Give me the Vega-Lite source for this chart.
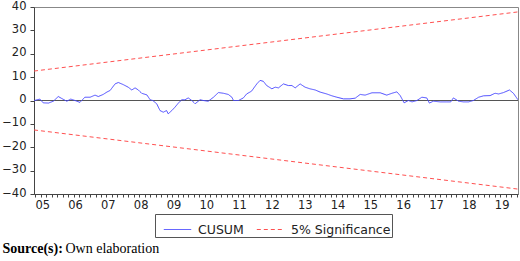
{
  "$schema": "https://vega.github.io/schema/vega-lite/v6.json",
  "width": 484,
  "height": 187,
  "autosize": {"type": "none"},
  "padding": {"left": 34, "top": 7, "right": 2, "bottom": 67},
  "background": "white",
  "config": {
    "view": {"stroke": "#888888", "strokeWidth": 1},
    "axis": {"labelFont": "DejaVu Sans", "labelFontSize": 11.5, "labelColor": "#222222", "domainColor": "#444444", "tickColor": "#444444", "grid": false},
    "axisY": {
      "values": [-40, -30, -20, -10, 0, 10, 20, 30, 40],
      "labelOverlap": false,
      "labelFlush": false,
      "tickSize": 4,
      "labelPadding": 4,
      "labelOffset": -1,
      "titleFont": "Liberation Serif",
      "titleFontSize": 14,
      "titleFontWeight": "bold",
      "titleColor": "#000000",
      "titleAngle": 0,
      "titleAlign": "left",
      "titleBaseline": "alphabetic",
      "titleX": -32,
      "titleY": 245.7
    }
  },
  "datasets": {
    "series": [
      {"t": 2005.26, "v": 0, "series": "CUSUM", "grp": "cusum"},
      {"t": 2005.43, "v": 0.6, "series": "CUSUM", "grp": "cusum"},
      {"t": 2005.53, "v": -1.0, "series": "CUSUM", "grp": "cusum"},
      {"t": 2005.69, "v": -1.1, "series": "CUSUM", "grp": "cusum"},
      {"t": 2005.84, "v": -0.3, "series": "CUSUM", "grp": "cusum"},
      {"t": 2005.99, "v": 1.7, "series": "CUSUM", "grp": "cusum"},
      {"t": 2006.09, "v": 0.9, "series": "CUSUM", "grp": "cusum"},
      {"t": 2006.25, "v": -0.3, "series": "CUSUM", "grp": "cusum"},
      {"t": 2006.37, "v": 0.6, "series": "CUSUM", "grp": "cusum"},
      {"t": 2006.50, "v": 0, "series": "CUSUM", "grp": "cusum"},
      {"t": 2006.65, "v": -0.8, "series": "CUSUM", "grp": "cusum"},
      {"t": 2006.80, "v": 1.4, "series": "CUSUM", "grp": "cusum"},
      {"t": 2006.96, "v": 1.4, "series": "CUSUM", "grp": "cusum"},
      {"t": 2007.11, "v": 2.3, "series": "CUSUM", "grp": "cusum"},
      {"t": 2007.21, "v": 1.7, "series": "CUSUM", "grp": "cusum"},
      {"t": 2007.36, "v": 2.6, "series": "CUSUM", "grp": "cusum"},
      {"t": 2007.47, "v": 3.6, "series": "CUSUM", "grp": "cusum"},
      {"t": 2007.57, "v": 4.3, "series": "CUSUM", "grp": "cusum"},
      {"t": 2007.72, "v": 7.1, "series": "CUSUM", "grp": "cusum"},
      {"t": 2007.82, "v": 7.7, "series": "CUSUM", "grp": "cusum"},
      {"t": 2007.97, "v": 6.8, "series": "CUSUM", "grp": "cusum"},
      {"t": 2008.12, "v": 5.7, "series": "CUSUM", "grp": "cusum"},
      {"t": 2008.23, "v": 4.5, "series": "CUSUM", "grp": "cusum"},
      {"t": 2008.33, "v": 5.4, "series": "CUSUM", "grp": "cusum"},
      {"t": 2008.43, "v": 4.5, "series": "CUSUM", "grp": "cusum"},
      {"t": 2008.53, "v": 3.1, "series": "CUSUM", "grp": "cusum"},
      {"t": 2008.69, "v": 2.4, "series": "CUSUM", "grp": "cusum"},
      {"t": 2008.79, "v": 0.3, "series": "CUSUM", "grp": "cusum"},
      {"t": 2008.87, "v": 0, "series": "CUSUM", "grp": "cusum"},
      {"t": 2008.99, "v": -1.4, "series": "CUSUM", "grp": "cusum"},
      {"t": 2009.09, "v": -4.3, "series": "CUSUM", "grp": "cusum"},
      {"t": 2009.19, "v": -5.0, "series": "CUSUM", "grp": "cusum"},
      {"t": 2009.29, "v": -4.3, "series": "CUSUM", "grp": "cusum"},
      {"t": 2009.34, "v": -5.7, "series": "CUSUM", "grp": "cusum"},
      {"t": 2009.45, "v": -4.3, "series": "CUSUM", "grp": "cusum"},
      {"t": 2009.55, "v": -2.8, "series": "CUSUM", "grp": "cusum"},
      {"t": 2009.65, "v": -1.1, "series": "CUSUM", "grp": "cusum"},
      {"t": 2009.75, "v": 0.3, "series": "CUSUM", "grp": "cusum"},
      {"t": 2009.85, "v": 0.3, "series": "CUSUM", "grp": "cusum"},
      {"t": 2009.95, "v": 1.1, "series": "CUSUM", "grp": "cusum"},
      {"t": 2010.06, "v": 0, "series": "CUSUM", "grp": "cusum"},
      {"t": 2010.16, "v": -1.4, "series": "CUSUM", "grp": "cusum"},
      {"t": 2010.31, "v": 0.3, "series": "CUSUM", "grp": "cusum"},
      {"t": 2010.41, "v": 0, "series": "CUSUM", "grp": "cusum"},
      {"t": 2010.56, "v": -0.3, "series": "CUSUM", "grp": "cusum"},
      {"t": 2010.72, "v": 1.4, "series": "CUSUM", "grp": "cusum"},
      {"t": 2010.87, "v": 3.4, "series": "CUSUM", "grp": "cusum"},
      {"t": 2011.02, "v": 3.1, "series": "CUSUM", "grp": "cusum"},
      {"t": 2011.17, "v": 2.6, "series": "CUSUM", "grp": "cusum"},
      {"t": 2011.28, "v": 1.4, "series": "CUSUM", "grp": "cusum"},
      {"t": 2011.33, "v": 0, "series": "CUSUM", "grp": "cusum"},
      {"t": 2011.48, "v": 0, "series": "CUSUM", "grp": "cusum"},
      {"t": 2011.63, "v": 1.1, "series": "CUSUM", "grp": "cusum"},
      {"t": 2011.73, "v": 2.8, "series": "CUSUM", "grp": "cusum"},
      {"t": 2011.88, "v": 4.0, "series": "CUSUM", "grp": "cusum"},
      {"t": 2012.04, "v": 7.1, "series": "CUSUM", "grp": "cusum"},
      {"t": 2012.14, "v": 8.6, "series": "CUSUM", "grp": "cusum"},
      {"t": 2012.24, "v": 8.2, "series": "CUSUM", "grp": "cusum"},
      {"t": 2012.34, "v": 6.4, "series": "CUSUM", "grp": "cusum"},
      {"t": 2012.50, "v": 5.0, "series": "CUSUM", "grp": "cusum"},
      {"t": 2012.60, "v": 5.7, "series": "CUSUM", "grp": "cusum"},
      {"t": 2012.70, "v": 5.4, "series": "CUSUM", "grp": "cusum"},
      {"t": 2012.85, "v": 7.1, "series": "CUSUM", "grp": "cusum"},
      {"t": 2013.00, "v": 6.4, "series": "CUSUM", "grp": "cusum"},
      {"t": 2013.11, "v": 6.4, "series": "CUSUM", "grp": "cusum"},
      {"t": 2013.21, "v": 5.4, "series": "CUSUM", "grp": "cusum"},
      {"t": 2013.36, "v": 7.1, "series": "CUSUM", "grp": "cusum"},
      {"t": 2013.51, "v": 5.7, "series": "CUSUM", "grp": "cusum"},
      {"t": 2013.66, "v": 5.0, "series": "CUSUM", "grp": "cusum"},
      {"t": 2013.82, "v": 4.5, "series": "CUSUM", "grp": "cusum"},
      {"t": 2013.97, "v": 3.6, "series": "CUSUM", "grp": "cusum"},
      {"t": 2014.17, "v": 2.8, "series": "CUSUM", "grp": "cusum"},
      {"t": 2014.33, "v": 2.0, "series": "CUSUM", "grp": "cusum"},
      {"t": 2014.48, "v": 1.4, "series": "CUSUM", "grp": "cusum"},
      {"t": 2014.68, "v": 0.7, "series": "CUSUM", "grp": "cusum"},
      {"t": 2014.88, "v": 0.7, "series": "CUSUM", "grp": "cusum"},
      {"t": 2015.04, "v": 1.0, "series": "CUSUM", "grp": "cusum"},
      {"t": 2015.19, "v": 2.6, "series": "CUSUM", "grp": "cusum"},
      {"t": 2015.34, "v": 2.3, "series": "CUSUM", "grp": "cusum"},
      {"t": 2015.55, "v": 3.3, "series": "CUSUM", "grp": "cusum"},
      {"t": 2015.80, "v": 3.3, "series": "CUSUM", "grp": "cusum"},
      {"t": 2016.00, "v": 2.3, "series": "CUSUM", "grp": "cusum"},
      {"t": 2016.16, "v": 3.1, "series": "CUSUM", "grp": "cusum"},
      {"t": 2016.31, "v": 3.7, "series": "CUSUM", "grp": "cusum"},
      {"t": 2016.41, "v": 2.1, "series": "CUSUM", "grp": "cusum"},
      {"t": 2016.53, "v": -1.0, "series": "CUSUM", "grp": "cusum"},
      {"t": 2016.66, "v": 0, "series": "CUSUM", "grp": "cusum"},
      {"t": 2016.77, "v": -0.6, "series": "CUSUM", "grp": "cusum"},
      {"t": 2016.92, "v": 0, "series": "CUSUM", "grp": "cusum"},
      {"t": 2017.07, "v": 1.4, "series": "CUSUM", "grp": "cusum"},
      {"t": 2017.22, "v": 1.1, "series": "CUSUM", "grp": "cusum"},
      {"t": 2017.30, "v": -1.1, "series": "CUSUM", "grp": "cusum"},
      {"t": 2017.42, "v": -0.3, "series": "CUSUM", "grp": "cusum"},
      {"t": 2017.63, "v": -0.6, "series": "CUSUM", "grp": "cusum"},
      {"t": 2017.83, "v": -0.6, "series": "CUSUM", "grp": "cusum"},
      {"t": 2017.95, "v": -0.6, "series": "CUSUM", "grp": "cusum"},
      {"t": 2018.03, "v": 1.1, "series": "CUSUM", "grp": "cusum"},
      {"t": 2018.19, "v": -0.3, "series": "CUSUM", "grp": "cusum"},
      {"t": 2018.34, "v": -0.6, "series": "CUSUM", "grp": "cusum"},
      {"t": 2018.49, "v": -0.6, "series": "CUSUM", "grp": "cusum"},
      {"t": 2018.64, "v": 0, "series": "CUSUM", "grp": "cusum"},
      {"t": 2018.80, "v": 1.4, "series": "CUSUM", "grp": "cusum"},
      {"t": 2018.95, "v": 2.0, "series": "CUSUM", "grp": "cusum"},
      {"t": 2019.15, "v": 2.1, "series": "CUSUM", "grp": "cusum"},
      {"t": 2019.30, "v": 3.1, "series": "CUSUM", "grp": "cusum"},
      {"t": 2019.41, "v": 2.8, "series": "CUSUM", "grp": "cusum"},
      {"t": 2019.56, "v": 3.4, "series": "CUSUM", "grp": "cusum"},
      {"t": 2019.74, "v": 4.5, "series": "CUSUM", "grp": "cusum"},
      {"t": 2019.86, "v": 3.1, "series": "CUSUM", "grp": "cusum"},
      {"t": 2020.00, "v": 0.3, "series": "CUSUM", "grp": "cusum"},
      {"t": 2005.25, "v": 12.6, "series": "5% Significance", "grp": "upper"},
      {"t": 2020.00, "v": 37.9, "series": "5% Significance", "grp": "upper"},
      {"t": 2005.25, "v": -12.6, "series": "5% Significance", "grp": "lower"},
      {"t": 2020.00, "v": -37.9, "series": "5% Significance", "grp": "lower"}
    ],
    "zero": [{"v": 0}]
  },
  "layer": [
    {
      "data": {"name": "zero"},
      "mark": {"type": "rule", "color": "#555555", "strokeWidth": 1},
      "encoding": {
        "y": {
          "field": "v", "type": "quantitative",
          "scale": {"domain": [-40, 40], "nice": false},
          "axis": {"title": "Source(s):", "values": [-40, -30, -20, -10, 0, 10, 20, 30, 40], "labelOverlap": false}
        }
      }
    },
    {
      "data": {"name": "series"},
      "mark": {"type": "line", "strokeWidth": 1, "clip": true},
      "encoding": {
        "x": {
          "field": "t", "type": "quantitative",
          "scale": {"domain": [2005.25, 2020.0], "nice": false, "zero": false},
          "axis": {
            "values": [2005.2917, 2005.4583, 2005.625, 2005.7917, 2005.9583,
              2006.125, 2006.2917, 2006.4583, 2006.625, 2006.7917, 2006.9583,
              2007.125, 2007.2917, 2007.4583, 2007.625, 2007.7917, 2007.9583,
              2008.125, 2008.2917, 2008.4583, 2008.625, 2008.7917, 2008.9583,
              2009.125, 2009.2917, 2009.4583, 2009.625, 2009.7917, 2009.9583,
              2010.125, 2010.2917, 2010.4583, 2010.625, 2010.7917, 2010.9583,
              2011.125, 2011.2917, 2011.4583, 2011.625, 2011.7917, 2011.9583,
              2012.125, 2012.2917, 2012.4583, 2012.625, 2012.7917, 2012.9583,
              2013.125, 2013.2917, 2013.4583, 2013.625, 2013.7917, 2013.9583,
              2014.125, 2014.2917, 2014.4583, 2014.625, 2014.7917, 2014.9583,
              2015.125, 2015.2917, 2015.4583, 2015.625, 2015.7917, 2015.9583,
              2016.125, 2016.2917, 2016.4583, 2016.625, 2016.7917, 2016.9583,
              2017.125, 2017.2917, 2017.4583, 2017.625, 2017.7917, 2017.9583,
              2018.125, 2018.2917, 2018.4583, 2018.625, 2018.7917, 2018.9583,
              2019.125, 2019.2917, 2019.4583, 2019.625, 2019.7917, 2019.9583],
            "labelExpr": "abs(datum.value - floor(datum.value) - 0.4583) < 0.01 ? substring(toString(floor(datum.value)), 2, 4) : ''",
            "labelOverlap": false,
            "labelFlush": false,
            "labelOffset": 1.4,
            "tickSize": 3,
            "labelPadding": 2,
            "title": "Own elaboration",
            "titleFont": "Liberation Serif",
            "titleFontSize": 14,
            "titleFontWeight": "normal",
            "titleColor": "#000000",
            "titleAlign": "left",
            "titleBaseline": "alphabetic",
            "titleX": 31,
            "titleY": 58.7
          }
        },
        "y": {
          "field": "v", "type": "quantitative",
          "scale": {"domain": [-40, 40], "nice": false},
          "axis": {"title": "Source(s):", "values": [-40, -30, -20, -10, 0, 10, 20, 30, 40], "labelOverlap": false}
        },
        "detail": {"field": "grp", "type": "nominal"},
        "color": {
          "field": "series", "type": "nominal",
          "scale": {"domain": ["CUSUM", "5% Significance"], "range": ["#4a4aff", "#ff5050"]},
          "legend": {
            "orient": "none",
            "legendX": 121,
            "legendY": 207,
            "direction": "horizontal",
            "title": null,
            "strokeColor": "#555555",
            "fillColor": "#ffffff",
            "padding": 1,
            "symbolType": "stroke",
            "symbolSize": 750,
            "symbolStrokeWidth": 1,
            "symbolOffset": 7,
            "labelFont": "DejaVu Sans",
            "labelFontSize": 12.5,
            "labelColor": "#222222",
            "labelOffset": 6,
            "columnPadding": 5,
            "labelExpr": "datum.label + '\u00a0\u00a0\u00a0'"
          }
        },
        "strokeDash": {
          "field": "series", "type": "nominal",
          "scale": {"domain": ["CUSUM", "5% Significance"], "range": [[1, 0], [4, 3]]},
          "legend": null
        }
      }
    }
  ]
}
